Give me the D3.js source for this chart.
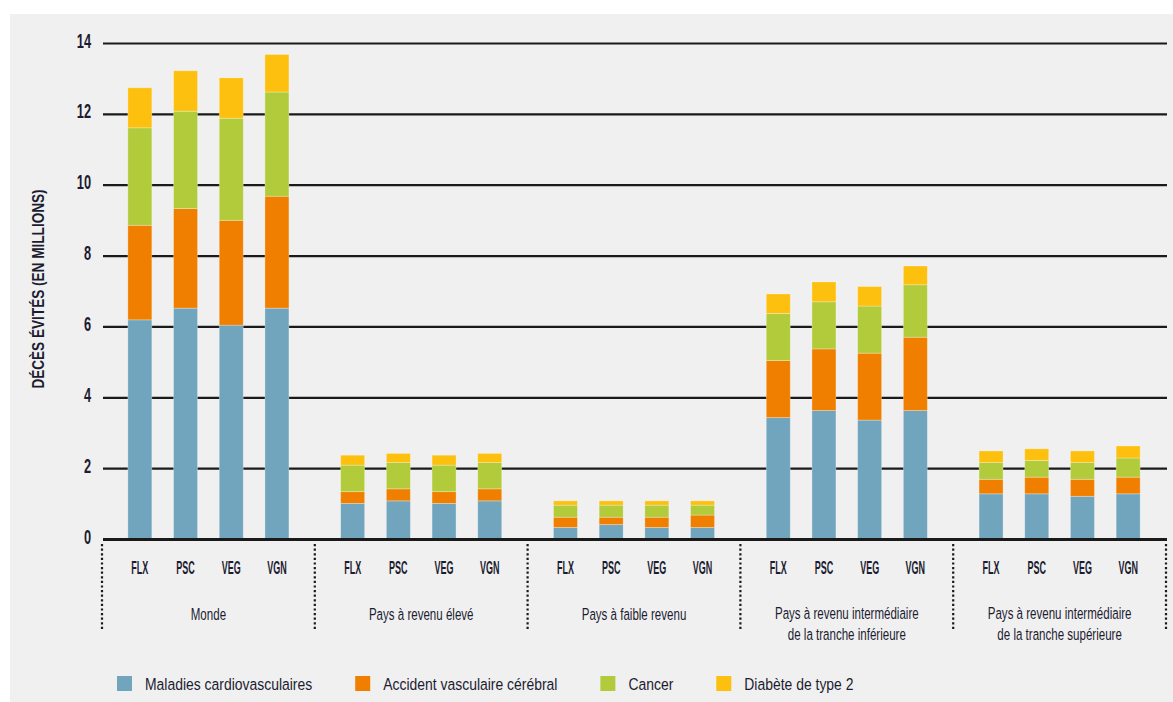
<!DOCTYPE html>
<html lang="fr">
<head>
<meta charset="utf-8">
<script src="https://cdn.jsdelivr.net/npm/d3@7"></script>
<style>
  html, body { margin: 0; padding: 0; background: #ffffff; }
  svg { display: block; }
  text { font-family: "Liberation Sans", Arial, sans-serif; fill: #1c1c30; }
</style>
</head>
<body>
<svg id="chart" width="1173" height="702"></svg>
<script>
// Régions (libellés sur une ou deux lignes)
const regions = [
  ["Monde"],
  ["Pays à revenu élevé"],
  ["Pays à faible revenu"],
  ["Pays à revenu intermédiaire", "de la tranche inférieure"],
  ["Pays à revenu intermédiaire", "de la tranche supérieure"]
];
// Régimes alimentaires
const diets = ["FLX", "PSC", "VEG", "VGN"];
// Causes de décès
const causes = ["Maladies cardiovasculaires", "Accident vasculaire cérébral", "Cancer", "Diabète de type 2"];
const causeColors = ["#71a5bd", "#f07f00", "#b1cb3b", "#fdc00f"];

// Décès évités (millions), région par région, dans l'ordre FLX, PSC, VEG, VGN
const cardio   = [6.20, 6.53, 6.05, 6.53,  1.02, 1.09, 1.02, 1.09,  0.34, 0.42, 0.34, 0.34,  3.44, 3.64, 3.37, 3.64,  1.29, 1.29, 1.22, 1.29];
const avc      = [2.67, 2.81, 2.96, 3.16,  0.33, 0.34, 0.33, 0.34,  0.29, 0.21, 0.29, 0.35,  1.61, 1.74, 1.89, 2.07,  0.41, 0.47, 0.48, 0.47];
const cancer   = [2.75, 2.75, 2.88, 2.94,  0.75, 0.74, 0.75, 0.74,  0.34, 0.34, 0.34, 0.28,  1.33, 1.33, 1.33, 1.48,  0.47, 0.47, 0.47, 0.54];
const diabete  = [1.13, 1.14, 1.14, 1.06,  0.28, 0.26, 0.28, 0.26,  0.12, 0.12, 0.12, 0.12,  0.55, 0.56, 0.55, 0.53,  0.33, 0.33, 0.33, 0.34];

const yTicks = [0, 2, 4, 6, 8, 10, 12, 14];
const yTitle = "DÉCÈS ÉVITÉS (EN MILLIONS)";

// Table des barres construite à partir des séries
const rows = [];
regions.forEach((r, gi) => diets.forEach((d, di) => {
  const i = gi * diets.length + di;
  rows.push({ region: gi, diet: d, c0: cardio[i], c1: avc[i], c2: cancer[i], c3: diabete[i] });
}));
const keys = ["c0", "c1", "c2", "c3"];
const stacked = d3.stack().keys(keys)(rows);

const svg = d3.select("#chart");
const W = 1173, H = 702;

// Fond gris du cadre
svg.append("rect").attr("x", 10).attr("y", 14).attr("width", W - 10).attr("height", H - 14).attr("fill", "#f0f0f0");

const x0 = d3.scaleBand().domain(d3.range(regions.length)).range([102, 1166]).padding(0);
const x1 = d3.scaleBand().domain(diets).range([0, x0.bandwidth()]).paddingInner(0.475).paddingOuter(0.566);
const y = d3.scaleLinear().domain([0, 14]).range([539.5, 43.5]);

// Texte condensé : mise à l'échelle horizontale autour du point d'ancrage
function condensed(sel, tx, ty, sx, size, weight, anchor, rot) {
  return sel.append("text")
    .attr("transform", `translate(${tx},${ty})` + (rot ? ` rotate(${rot})` : "") + ` scale(${sx},1)`)
    .attr("text-anchor", anchor)
    .style("font-size", size + "px")
    .style("font-weight", weight);
}

// Lignes de grille et graduations
const grid = svg.append("g");
yTicks.forEach(t => {
  grid.append("line")
    .attr("x1", 103).attr("x2", 1167)
    .attr("y1", y(t)).attr("y2", y(t))
    .attr("stroke", "#1a1a1a")
    .attr("stroke-width", t === 0 ? 2.8 : 2.2);
  condensed(grid, 91, y(t) + 4, 0.64, 20, "bold", "end").text(t);
});

// Barres empilées
const barsG = svg.append("g");
stacked.forEach((layer, k) => {
  barsG.append("g").attr("fill", causeColors[k])
    .selectAll("rect").data(layer).join("rect")
    .attr("x", d => x0(d.data.region) + x1(d.data.diet))
    .attr("width", x1.bandwidth())
    .attr("y", d => y(d[1]))
    .attr("height", d => y(d[0]) - y(d[1]))
    .attr("stroke", "rgba(255,255,255,0.35)")
    .attr("stroke-width", 0.8);
});
// Ligne de base redessinée au-dessus des barres
svg.append("line").attr("x1", 103).attr("x2", 1167).attr("y1", y(0)).attr("y2", y(0))
  .attr("stroke", "#1a1a1a").attr("stroke-width", 2.8);

// Séparateurs pointillés entre régions
const sepG = svg.append("g");
const seps = regions.map((r, i) => x0(i)).concat([x0(regions.length - 1) + x0.bandwidth()]);
seps.forEach(sx => {
  sepG.append("line")
    .attr("x1", sx).attr("x2", sx).attr("y1", 544).attr("y2", 630)
    .attr("stroke", "#1a1a1a").attr("stroke-width", 2.2)
    .attr("stroke-dasharray", "2.2,2.4");
});

// Libellés des régimes
const labG = svg.append("g");
rows.forEach(r => {
  condensed(labG, x0(r.region) + x1(r.diet) + x1.bandwidth() / 2, 574, 0.5, 18, "bold", "middle").text(r.diet);
});

// Libellés des régions
regions.forEach((lines, gi) => {
  const cx = x0(gi) + x0.bandwidth() / 2;
  lines.forEach((ln, li) => {
    const base = lines.length === 1 ? 620 : 619 + li * 21;
    condensed(labG, cx, base, 0.68, 17, "normal", "middle").text(ln);
  });
});

// Titre de l'axe vertical
condensed(svg, 44, 289, 0.8, 17, "bold", "middle", -90).text(yTitle);

// Légende
const legG = svg.append("g");
let lx = 117;
causes.forEach((c, k) => {
  legG.append("rect").attr("x", lx).attr("y", 676).attr("width", 15).attr("height", 15).attr("fill", causeColors[k]);
  const t = condensed(legG, lx + 28, 690, 0.82, 17, "normal", "start").text(c);
  const w = t.node().getComputedTextLength() * 0.82;
  lx = lx + 28 + w + 43;
});
</script>
</body>
</html>
